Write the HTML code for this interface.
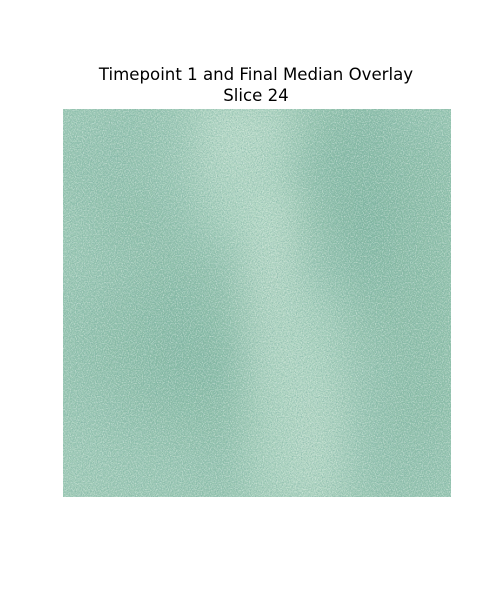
<!DOCTYPE html>
<html><head><meta charset="utf-8"><style>
body{margin:0;background:#fff;width:500px;height:600px;overflow:hidden}
svg{display:block}
text{font-family:"DejaVu Sans","Liberation Sans",sans-serif;font-size:16.6px;fill:#000}
</style></head><body>
<svg id="chart" width="500" height="600">
<defs>
<filter id="blur" x="-10%" y="-10%" width="120%" height="120%"><feGaussianBlur stdDeviation="18"/></filter>
<filter id="noiseD"><feTurbulence type="fractalNoise" baseFrequency="0.8" numOctaves="2" seed="3"/><feColorMatrix type="matrix" values="0 0 0 0 0.2  0 0 0 0 0.42  0 0 0 0 0.38  0 0 0 2.2 -0.95"/></filter>
<filter id="noiseL"><feTurbulence type="fractalNoise" baseFrequency="0.85" numOctaves="2" seed="11"/><feColorMatrix type="matrix" values="0 0 0 0 0.9  0 0 0 0 0.96  0 0 0 0 0.92  0 0 0 2.2 -0.95"/></filter>
<clipPath id="clip"><rect x="63" y="109" width="388" height="388"/></clipPath>
</defs>
<text x="256" y="80" text-anchor="middle">Timepoint 1 and Final Median Overlay</text>
<text x="256" y="101" text-anchor="middle">Slice 24</text>
<g id="img" clip-path="url(#clip)">
<rect x="63" y="109" width="388" height="388" fill="#9ccab3"/>
<g id="cells" filter="url(#blur)"></g>
<rect x="63" y="109" width="388" height="388" filter="url(#noiseD)" opacity="0.8"/>
<rect x="63" y="109" width="388" height="388" filter="url(#noiseL)" opacity="0.6"/>
</g>
</svg>
<script>
const rows = [0,1,2,3,4,5,6,7];
const cols = [0,1,2,3,4,5,6,7];
const brightness = [
[0.5,0.45,0.5,0.75,0.7,0.4,0.35,0.45],
[0.45,0.45,0.5,0.7,0.65,0.35,0.35,0.4],
[0.5,0.4,0.45,0.6,0.75,0.4,0.3,0.4],
[0.5,0.45,0.4,0.45,0.75,0.45,0.35,0.4],
[0.45,0.4,0.35,0.4,0.7,0.6,0.4,0.4],
[0.45,0.4,0.35,0.35,0.7,0.65,0.45,0.4],
[0.5,0.45,0.4,0.4,0.65,0.7,0.45,0.4],
[0.55,0.5,0.5,0.45,0.65,0.7,0.45,0.45]
];
const X0=63,Y0=109,S=388;
const cw=S/cols.length, ch=S/rows.length;
function xs(c){return X0+c*cw;}
function ys(r){return Y0+r*ch;}
function color(v){
  const d=[122,178,156], l=[196,226,208];
  const t=Math.max(0,Math.min(1,(v-0.3)/0.5));
  return 'rgb('+d.map((a,i)=>Math.round(a+(l[i]-a)*t)).join(',')+')';
}
const g=document.getElementById('cells');
rows.forEach(r=>cols.forEach(c=>{
  const rc=document.createElementNS('http://www.w3.org/2000/svg','rect');
  rc.setAttribute('x',xs(c)-cw*0.25);rc.setAttribute('y',ys(r)-ch*0.25);
  rc.setAttribute('width',cw*1.5);rc.setAttribute('height',ch*1.5);
  rc.setAttribute('fill',color(brightness[r][c]));
  rc.setAttribute('opacity','0.75');
  
  
  g.appendChild(rc);
}));
</script>
</body></html>
